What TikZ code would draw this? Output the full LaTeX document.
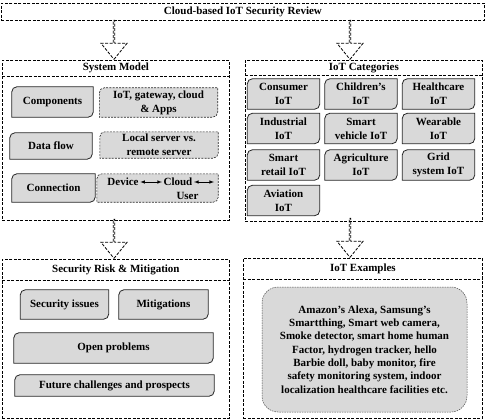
\documentclass[tikz,border=0pt]{standalone}
\usepackage{fontspec}
\setmainfont{Liberation Serif}
\usepackage{tikz}
\usetikzlibrary{calc, positioning, shapes.arrows, arrows, backgrounds}
\definecolor{boxgray}{RGB}{217,217,217}
\tikzstyle{panel}=[draw, dash pattern=on 3pt off 1.5pt, line width=0.8pt, inner sep=0pt]
\tikzstyle{lbl}=[inner sep=0pt, font=\fontsize{11}{14}\selectfont\bfseries, align=center]
\tikzstyle{cell}=[lbl, minimum width=72, minimum height=30]
\tikzstyle{bigarrow}=[single arrow, draw, dash pattern=on 3pt off 1.5pt, line width=0.8pt, rotate=-90, anchor=tip, minimum height=39, minimum width=26, single arrow head extend=6.5, single arrow tip angle=78, inner sep=0pt]
\tikzstyle{solidcell}=[fill=boxgray, draw=black!85, line width=0.8pt]
\tikzstyle{dashcell}=[fill=boxgray, draw=black!85, line width=0.6pt, dash pattern=on 2pt off 1.2pt]
\tikzset{>=latex}
% box with the top left and bottom right corners rounded
\newcommand{\dframe}[2][solidcell]{%
  \draw[#1] ($(#2.north west)+(0,-5pt)$) arc[start angle=180, end angle=90, radius=5pt]
    -- (#2.north east) -- ($(#2.south east)+(0,5pt)$)
    arc[start angle=0, end angle=-90, radius=5pt] -- (#2.south west) -- cycle;}

\begin{document}
\begin{tikzpicture}[x=1pt, y=1pt]
\useasboundingbox (0,0) rectangle (485,-420);
% the title bar
\node[panel, lbl, minimum width=483, minimum height=17, anchor=north west] (top) at (1,-3) {Cloud-based IoT Security Review};
% the four panels
\node[panel, minimum width=227, minimum height=160, anchor=north west] (sm) at (2,-60) {};
\node[lbl, minimum width=227, minimum height=16, anchor=north] (smt) at (sm.north) {System Model};
\draw[panel] (smt.south west) -- (smt.south east);
\node[panel, minimum width=237, minimum height=161, anchor=north west] (cat) at (245,-60) {};
\node[lbl, minimum width=237, minimum height=15, anchor=north] (catt) at (cat.north) {IoT Categories};
\draw[panel] (catt.south west) -- (catt.south east);
\node[panel, minimum width=227, minimum height=159, anchor=north west] (sec) at (2,-259) {};
\node[lbl, minimum width=227, minimum height=21, anchor=north] (sect) at (sec.north) {Security Risk \& Mitigation};
\draw[panel] (sect.south west) -- (sect.south east);
\node[panel, minimum width=239, minimum height=160, anchor=north west] (ex) at (243,-258) {};
\node[lbl, minimum width=239, minimum height=21, anchor=north] (ext) at (ex.north) {IoT Examples};
\draw[panel] (ext.south west) -- (ext.south east);
% the hollow arrows
\node[bigarrow] (a1) at (114,-60) {};
\node[bigarrow] (a2) at (350,-60) {};
\node[bigarrow] (a3) at (114,-259) {};
\node[bigarrow] (a4) at (350,-258) {};
% system model
\node[lbl, minimum width=81, minimum height=30] (comp) at (52.5,-102) {Components};
\node[lbl, minimum width=118, minimum height=29] (iotg) at (158.5,-102.5) {IoT, gateway, cloud\\\& Apps};
\node[lbl, minimum width=82, minimum height=26] (df) at (51,-146) {Data flow};
\node[lbl, minimum width=118, minimum height=26] (dfr) at (159,-145) {Local server vs.\\remote server};
\node[lbl, minimum width=83, minimum height=28] (conn) at (53.5,-188) {Connection};
\node[lbl, minimum width=121, minimum height=28] (connr) at (157.5,-188) {};
\node[lbl, inner sep=1.5pt] (dev) at (123,-182) {Device};
\node[lbl, inner sep=1.5pt] (cld) at (178,-182) {Cloud};
\node[lbl] (usr) at (187.5,-196) {User};
\coordinate (cend) at (214,-182);
\draw[<->, line width=0.6pt] (dev) -- (cld);
\draw[<->, line width=0.6pt] (cld) -- (cend);
% iot categories
\node[cell] (c1) at (283.5,-94) {Consumer\\IoT};
\node[cell] (c2) at (361,-94) {Children's\\IoT};
\node[cell] (c3) at (438.5,-94) {Healthcare\\IoT};
\node[cell] (c4) at (283.5,-128.5) {Industrial\\IoT};
\node[cell] (c5) at (361,-128.5) {Smart\\vehicle IoT};
\node[cell] (c6) at (438.5,-128.5) {Wearable\\IoT};
\node[cell] (c7) at (283.5,-165) {Smart\\retail IoT};
\node[cell] (c8) at (361,-165) {Agriculture\\IoT};
\node[cell] (c9) at (438.5,-165) {Grid\\system IoT};
\node[cell] (c10) at (283.5,-200.5) {Aviation\\IoT};
% security risk and mitigation
\node[lbl, minimum width=88, minimum height=29] (iss) at (64.5,-304.5) {Security issues};
\node[lbl, minimum width=89, minimum height=29] (mit) at (163.5,-304.5) {Mitigations};
\node[lbl, minimum width=199, minimum height=30] (opn) at (113.5,-348) {Open problems};
\node[lbl, minimum width=199, minimum height=21] (fut) at (114.5,-385.5) {Future challenges and prospects};
% iot examples
\node[lbl, font=\fontsize{11}{13.3}\selectfont\bfseries, minimum width=205, minimum height=125, fill=boxgray, draw=black!70, line width=0.5pt, dash pattern=on 1.5pt off 1pt, rounded corners=16pt] (exb) at (364.5,-349.5) {Amazon's Alexa, Samsung's\\Smartthing, Smart web camera,\\Smoke detector, smart home human\\Factor, hydrogen tracker, hello\\Barbie doll, baby monitor, fire\\safety monitoring system, indoor\\localization healthcare facilities etc.};
% the box frames
\begin{scope}[on background layer]
\dframe{comp}
\dframe[dashcell]{iotg}
\dframe{df}
\dframe[dashcell]{dfr}
\dframe{conn}
\dframe[dashcell]{connr}
\dframe{c1} \dframe{c2} \dframe{c3}
\dframe{c4} \dframe{c5} \dframe{c6}
\dframe{c7} \dframe{c8} \dframe{c9}
\dframe{c10}
\dframe{iss} \dframe{mit}
\dframe{opn} \dframe{fut}
\end{scope}
\end{tikzpicture}
\end{document}
